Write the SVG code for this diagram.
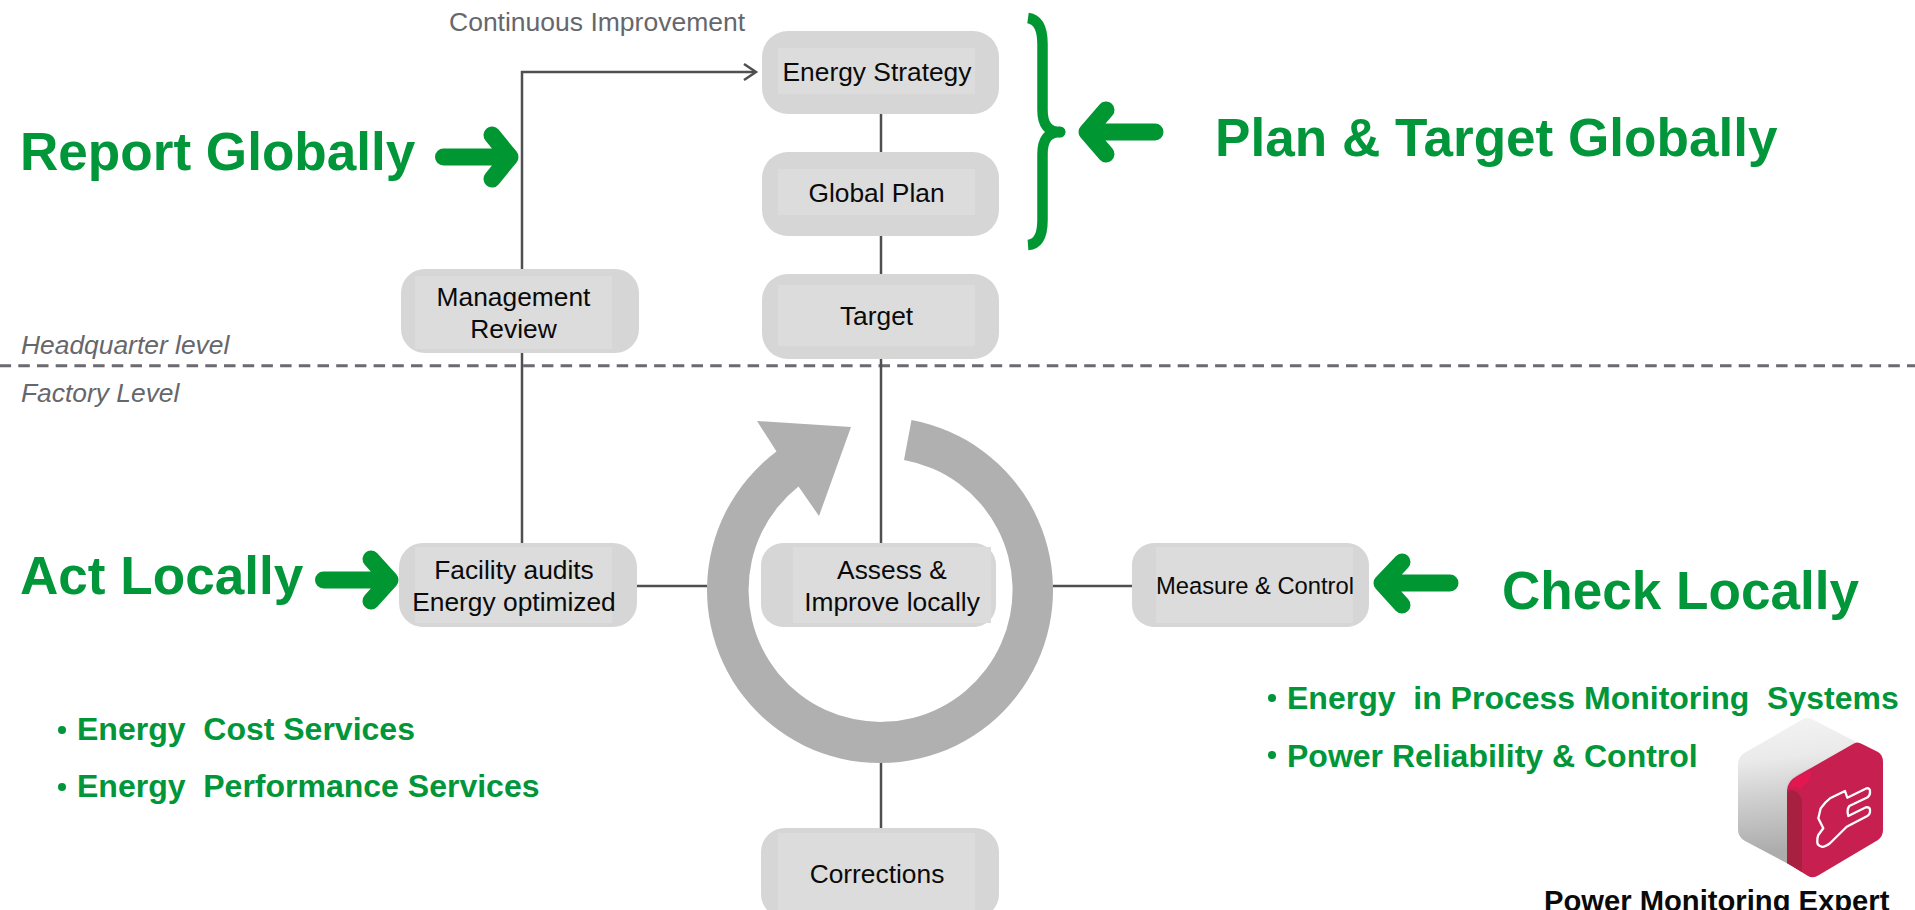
<svg xmlns="http://www.w3.org/2000/svg" width="1915" height="910" viewBox="0 0 1915 910">
<style>
text{font-family:"Liberation Sans",Arial,sans-serif;white-space:pre}
.outer{fill:#d6d6d6}
.inner{fill:#dcdcdc}
.lbl{font-size:26.35px;fill:#0a0a0a;text-anchor:middle}
.note{font-size:26.5px;fill:#66676c}
.note-i{font-size:26.4px;fill:#66676c;font-style:italic}
.big{font-size:53.1px;font-weight:bold;fill:#009639}
.item{font-size:32px;font-weight:bold;fill:#009639}
.conn{fill:none;stroke:#4f4f4f;stroke-width:2.5}
.callout{fill:none;stroke:#009632;stroke-width:17;stroke-linecap:round;stroke-linejoin:round}
.dot{fill:#009639}
</style>
<defs>
<linearGradient id="cubeBody" gradientUnits="userSpaceOnUse" x1="1775" y1="718" x2="1790" y2="850"><stop offset="0" stop-color="#f3f3f3"/><stop offset="0.3" stop-color="#eaeaea"/><stop offset="0.55" stop-color="#d2d2d2"/><stop offset="1" stop-color="#acacac"/></linearGradient>
<filter id="soft" x="-30%" y="-30%" width="160%" height="160%"><feGaussianBlur stdDeviation="1.5"/></filter>
</defs>
<rect width="1915" height="910" fill="#ffffff"/>

<g id="level-divider">
<line x1="0" y1="365.700" x2="1915" y2="365.700" stroke="#6a6a70" stroke-width="3" stroke-dasharray="11.500 7.200" stroke-dashoffset="0.400"/>
<text class="note-i" x="21" y="354">Headquarter level</text>
<text class="note-i" x="21" y="402">Factory Level</text>
</g>

<g id="connectors">
<path class="conn" d="M522 543V72H755"/>
<path class="conn" d="M744 64L756 72L744 80"/>
<path class="conn" d="M881 114V543"/>
<path class="conn" d="M881 763V828"/>
<path class="conn" d="M636 586H707"/>
<path class="conn" d="M1053 586H1132"/>
</g>

<g id="cycle-arrow">
<path fill="#b0b0b0" d="M911.500 420A173 173 0 1 1 776.500 451.500L757 421L851 427L819 516L798.500 486.500A132 132 0 1 0 904 460Z"/>
</g>

<g id="node-energy-strategy">
<rect class="outer" x="762" y="31" width="237" height="83" rx="26"/>
<rect class="inner" x="778" y="48" width="197" height="46"/>
<text class="lbl" x="877" y="81">Energy Strategy</text>
</g>
<g id="node-global-plan">
<rect class="outer" x="762" y="152" width="237" height="84" rx="26"/>
<rect class="inner" x="778" y="169" width="197" height="46"/>
<text class="lbl" x="876.500" y="202">Global Plan</text>
</g>
<g id="node-target">
<rect class="outer" x="762" y="274" width="237" height="85" rx="26"/>
<rect class="inner" x="778" y="285" width="197" height="61"/>
<text class="lbl" x="876.500" y="325">Target</text>
</g>
<g id="node-management-review">
<rect class="outer" x="401" y="269" width="238" height="84" rx="24"/>
<rect class="inner" x="415" y="276" width="197" height="73"/>
<text class="lbl" x="513.500" y="306">Management</text>
<text class="lbl" x="513.500" y="338">Review</text>
</g>
<g id="node-facility-audits">
<rect class="outer" x="399" y="543" width="238" height="84" rx="24"/>
<rect class="inner" x="415" y="547" width="197" height="76"/>
<text class="lbl" x="514" y="579">Facility audits</text>
<text class="lbl" x="514" y="611">Energy optimized</text>
</g>
<g id="node-assess">
<rect class="outer" x="761" y="543" width="235" height="84" rx="22"/>
<rect class="inner" x="793" y="547" width="198" height="76"/>
<text class="lbl" x="892" y="579">Assess &amp;</text>
<text class="lbl" x="892" y="611">Improve locally</text>
</g>
<g id="node-measure-control">
<rect class="outer" x="1132" y="543" width="237" height="84" rx="22"/>
<rect class="inner" x="1156" y="547" width="197" height="76"/>
<text class="lbl" x="1255" y="594" style="font-size:23.75px">Measure &amp; Control</text>
</g>
<g id="node-corrections">
<rect class="outer" x="761" y="828" width="238" height="90" rx="24"/>
<rect class="inner" x="778" y="833" width="197" height="80"/>
<text class="lbl" x="877" y="883">Corrections</text>
</g>

<g id="continuous-improvement"><text class="note" x="449" y="31">Continuous Improvement</text></g>

<g id="report-globally">
<text class="big" x="20" y="170">Report Globally</text>
<path class="callout" d="M443.500 157H510M492 135L510 157L492 179"/>
</g>
<g id="plan-target">
<path fill="none" stroke="#009632" stroke-width="10.500" stroke-linejoin="round" d="M1028 18Q1042.500 20 1042.500 44V110Q1042.500 132 1060 132Q1042.500 132 1042.500 154V220Q1042.500 244 1028 245"/>
<circle cx="1060" cy="132" r="5.500" fill="#009632"/>
<path class="callout" d="M1155 132H1087M1106 110L1087 132L1106 154"/>
<text class="big" x="1215" y="156">Plan &amp; Target Globally</text>
</g>
<g id="act-locally">
<text class="big" x="20" y="594">Act Locally</text>
<path class="callout" d="M323.500 580H390M371 559L390 580L371 601"/>
<circle class="dot" cx="62" cy="730" r="4"/>
<text class="item" x="77" y="740">Energy  Cost Services</text>
<circle class="dot" cx="62" cy="787" r="4"/>
<text class="item" x="77" y="797">Energy  Performance Services</text>
</g>
<g id="check-locally">
<path class="callout" d="M1450 583H1382M1402 562L1382 583L1402 605"/>
<text class="big" x="1502" y="609">Check Locally</text>
<circle class="dot" cx="1272" cy="698" r="4"/>
<text class="item" x="1287" y="709">Energy  in Process Monitoring  Systems</text>
<circle class="dot" cx="1272" cy="755" r="4"/>
<text class="item" x="1287" y="767">Power Reliability &amp; Control</text>
</g>

<g id="power-monitoring-expert">
<path fill="url(#cubeBody)" d="M1805 718Q1808 717 1812 719L1862 745L1792 800V866L1745 841Q1738 837 1738 830V765Q1738 756 1746 752Z"/>
<path fill="#c71f50" d="M1787 790Q1788 781 1797 776L1853 744Q1857 741 1862 744L1878 752Q1883 755 1883 762V830Q1883 836 1878 840L1819 875Q1813 879 1808 876L1787 863Z"/>
<path fill="#a8203f" d="M1787 795Q1788 788 1795 791Q1802 795 1802 803V872L1787 863Z"/>
<path fill="#e5124f" filter="url(#soft)" d="M1789 787Q1791 781 1798 777L1811 770Q1813 778 1805 784Q1802 790 1796 787Z"/>
<path fill="none" stroke="#ffffff" stroke-width="2.300" stroke-linejoin="round" d="M1845 791L1847.300 797.700L1866.700 788.300Q1870 788 1870 791Q1870.500 795 1867.700 797.300L1849.300 806Q1846.500 810 1848.300 816L1866 807.300Q1870 807 1870 810Q1870.500 814 1867.300 816L1846.700 826.700L1830 843.300Q1824 847.500 1821.700 846.700Q1817 845.500 1817.300 841.700Q1817 838 1818.300 835L1823.300 828.300L1818.300 818.300L1820.700 808.300Q1825 802 1830 798.300Z"/>
<text x="1544" y="911" style="font-size:29.2px;font-weight:bold;fill:#0a0a0a">Power Monitoring Expert</text>
</g>
</svg>
